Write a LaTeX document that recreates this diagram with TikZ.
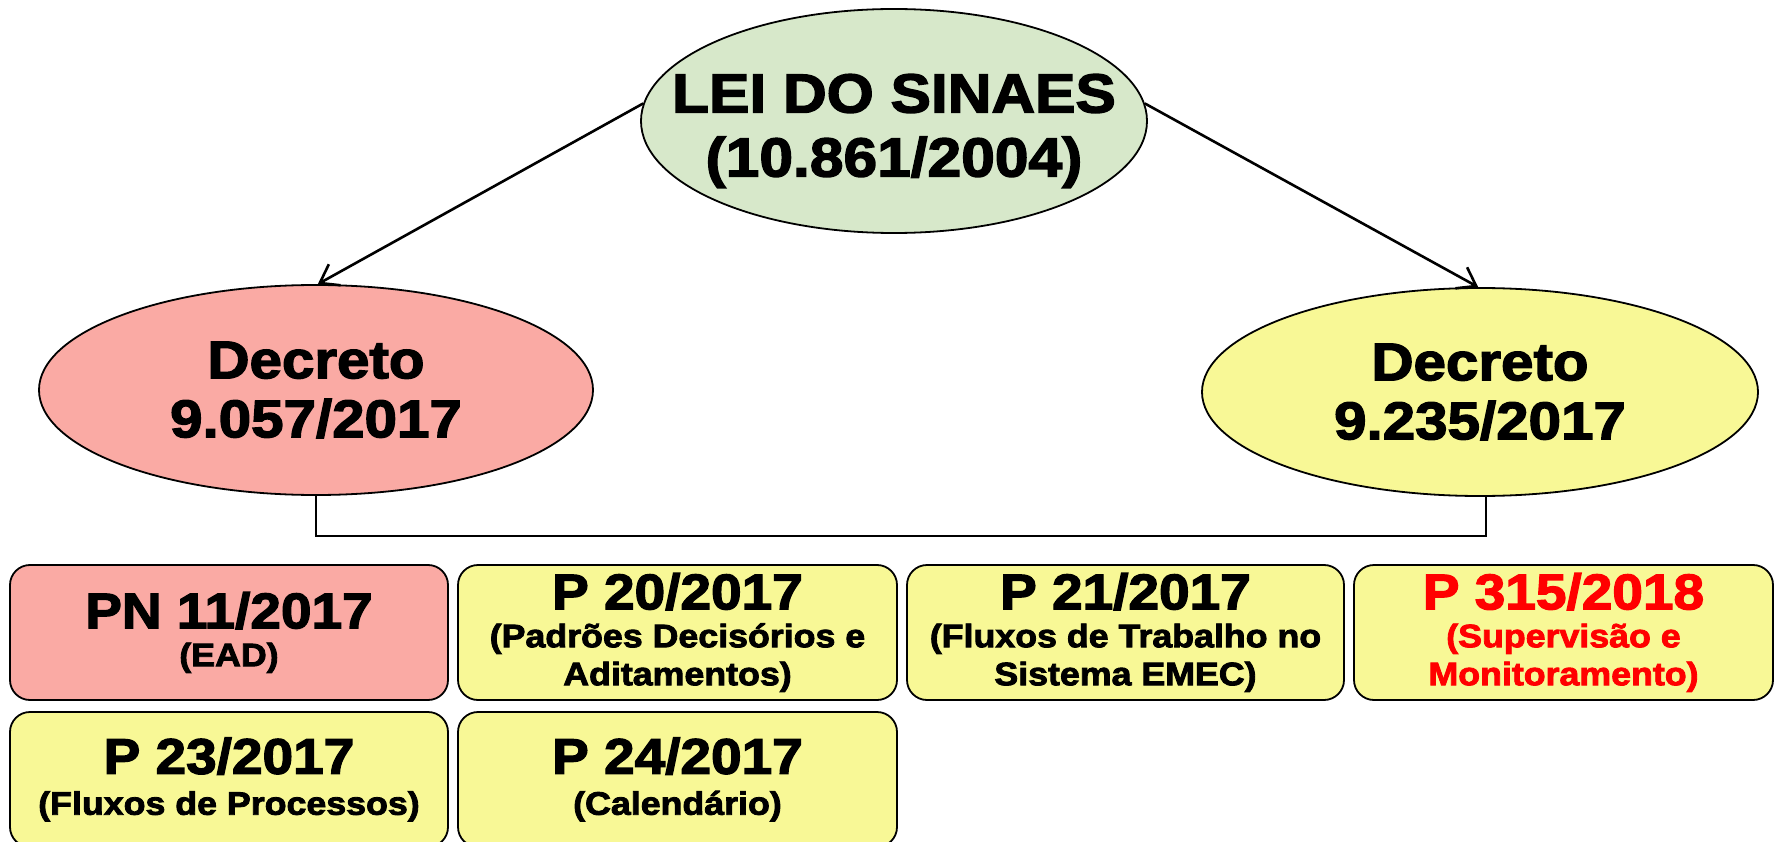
\documentclass[tikz,border=0pt]{standalone}
\usepackage{fontspec}
\setmainfont{Liberation Sans}[FakeStretch=1.1,BoldFeatures={FakeBold=2.6}]
\usetikzlibrary{shapes.geometric,arrows.meta}
\definecolor{pinkf}{RGB}{250,170,164}
\definecolor{yellowf}{RGB}{248,248,150}
\definecolor{greenf}{RGB}{215,232,202}
\definecolor{redt}{RGB}{255,0,0}
\newcommand\subt[1]{{\fontsize{32.5}{38}\selectfont #1}}
\begin{document}
\begin{tikzpicture}[x=1pt,y=-1pt,
  ell/.style={draw, ellipse, line width=1.8pt, inner sep=-60pt, align=center},
  lbl/.style={align=center, inner sep=0pt},
  box/.style={draw, line width=1.8pt, rounded corners=20pt, fill=yellowf,
    minimum height=135pt, inner sep=0pt, align=center,
    font=\bfseries\fontsize{50}{38}\selectfont},
  arr/.style={line width=2.6pt, -{Straight Barb[length=17pt,width=24pt]}},
  conn/.style={line width=1.4pt}]
\useasboundingbox (0,0) rectangle (1775,842);
\node[ell, fill=greenf, minimum width=506pt, minimum height=224pt] (lei) at (894,121) {};
\node[lbl, font=\bfseries\fontsize{55}{64}\selectfont] (leit) at ([yshift=-10pt]lei.center) {LEI DO SINAES\\(10.861/2004)};
\node[ell, fill=pinkf, minimum width=554pt, minimum height=210pt,
  font=\bfseries\fontsize{53}{59}\selectfont] (dl) at (316,390) {Decreto\\9.057/2017};
\node[ell, fill=yellowf, minimum width=556pt, minimum height=208pt,
  font=\bfseries\fontsize{53}{59}\selectfont] (dr) at (1480,392) {Decreto\\9.235/2017};
\draw[arr] (lei.176) -- (dl.89);
\draw[arr] (lei.4) -- (dr.91);
\draw[conn] (dl.south) -- ++(0,40) -| ([xshift=6pt]dr.south);
\node[box, fill=pinkf, minimum width=438pt] (b1) at (229,632.5) {PN 11/2017\\\subt{(EAD)}};
\node[box, minimum width=439pt] (b2) at (677.5,632.5) {P 20/2017\\\subt{(Padrões Decisórios e}\\\subt{Aditamentos)}};
\node[box, minimum width=437pt] (b3) at (1125.5,632.5) {P 21/2017\\\subt{(Fluxos de Trabalho no}\\\subt{Sistema EMEC)}};
\node[box, minimum width=419pt, text=redt] (b4) at (1563.5,632.5) {P 315/2018\\\subt{(Supervisão e}\\\subt{Monitoramento)}};
\node[box, minimum width=438pt] (b5) at (229,779.5) {P 23/2017\\[3pt]\subt{(Fluxos de Processos)}};
\node[box, minimum width=439pt] (b6) at (677.5,779.5) {P 24/2017\\[3pt]\subt{(Calendário)}};
\end{tikzpicture}
\end{document}
